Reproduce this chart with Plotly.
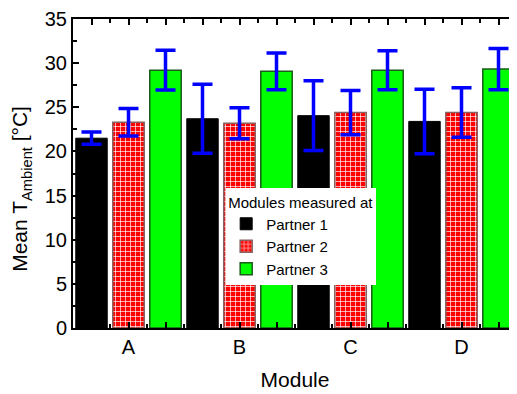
import plotly.graph_objects as go

categories = ["A", "B", "C", "D"]
series_names = ["Partner 1", "Partner 2", "Partner 3"]
p1_mean = [21.5, 23.7, 24.05, 23.4]
p1_err = [0.7, 3.9, 3.95, 3.65]
p2_mean = [23.3, 23.2, 24.4, 24.4]
p2_err = [1.55, 1.75, 2.5, 2.8]
p3_mean = [29.2, 29.07, 29.2, 29.33]
p3_err = [2.25, 2.07, 2.2, 2.33]

FONT = "Liberation Sans, Arial, sans-serif"
xpos = list(range(len(categories)))

fig = go.Figure()
styles = [
    dict(color="#000000", line=dict(color="#000000", width=1)),
    dict(color="#ff0000", line=dict(color="#8a6060", width=1.5),
         pattern=dict(shape="+", fgcolor="#ffffff", bgcolor="#ff0000", size=5, solidity=0.25, fillmode="replace")),
    dict(color="#00ff00", line=dict(color="#1a5a1a", width=1.5)),
]
for name, m, e, st in zip(series_names, [p1_mean, p2_mean, p3_mean], [p1_err, p2_err, p3_err], styles):
    fig.add_trace(go.Bar(
        x=xpos, y=m, name=name, marker=st,
        error_y=dict(type="data", array=e, color="#0000ff", thickness=3.5, width=10),
    ))

n = len(categories)
major_vals = [k / 3 for k in range(-1, 3 * n + 1)]
major_text = [categories[int(round(v))] if abs(v - round(v)) < 1e-9 and 0 <= round(v) < n else "" for v in major_vals]

fig.update_layout(
    width=509, height=386,
    margin=dict(l=65, r=0, t=11, b=66),
    paper_bgcolor="white", plot_bgcolor="white",
    barmode="group", bargap=0.0, bargroupgap=0.15,
    font=dict(family=FONT, color="black", size=20),
    legend=dict(
        title=dict(text="Modules measured at", font=dict(size=15)),
        font=dict(size=15), x=0.345, y=0.453, xanchor="left", yanchor="top",
        bgcolor="white", borderwidth=0, tracegroupgap=0,
    ),
    xaxis=dict(
        range=[-0.5, 3.5], tickmode="array", tickvals=major_vals, ticktext=major_text,
        ticks="inside", ticklen=6, tickwidth=1.5, tickcolor="black",
        minor=dict(ticks="inside", ticklen=4, tickwidth=1.5, tickcolor="black", tick0=1/6, dtick=1/3),
        showline=True, linecolor="black", linewidth=2, mirror="ticks",
        showgrid=False, zeroline=False, automargin=False,
        title=dict(text="Module", font=dict(size=21)),
        tickfont=dict(size=20),
    ),
    yaxis=dict(
        range=[0, 35], tickmode="linear", tick0=0, dtick=5,
        ticks="inside", ticklen=6, tickwidth=1.5, tickcolor="black",
        minor=dict(ticks="inside", ticklen=4, tickwidth=1.5, tickcolor="black", dtick=2.5),
        showline=True, linecolor="black", linewidth=2, mirror="ticks",
        showgrid=False, zeroline=False, automargin=False,
        tickfont=dict(size=20),
    ),
    annotations=[dict(
        text="Mean T<sub>Ambient</sub> [°C]", textangle=-90, showarrow=False,
        xref="paper", yref="paper", x=-0.116, y=0.452, xanchor="center", yanchor="middle",
        font=dict(size=21),
    )],
)

fig.write_html("out.html")
